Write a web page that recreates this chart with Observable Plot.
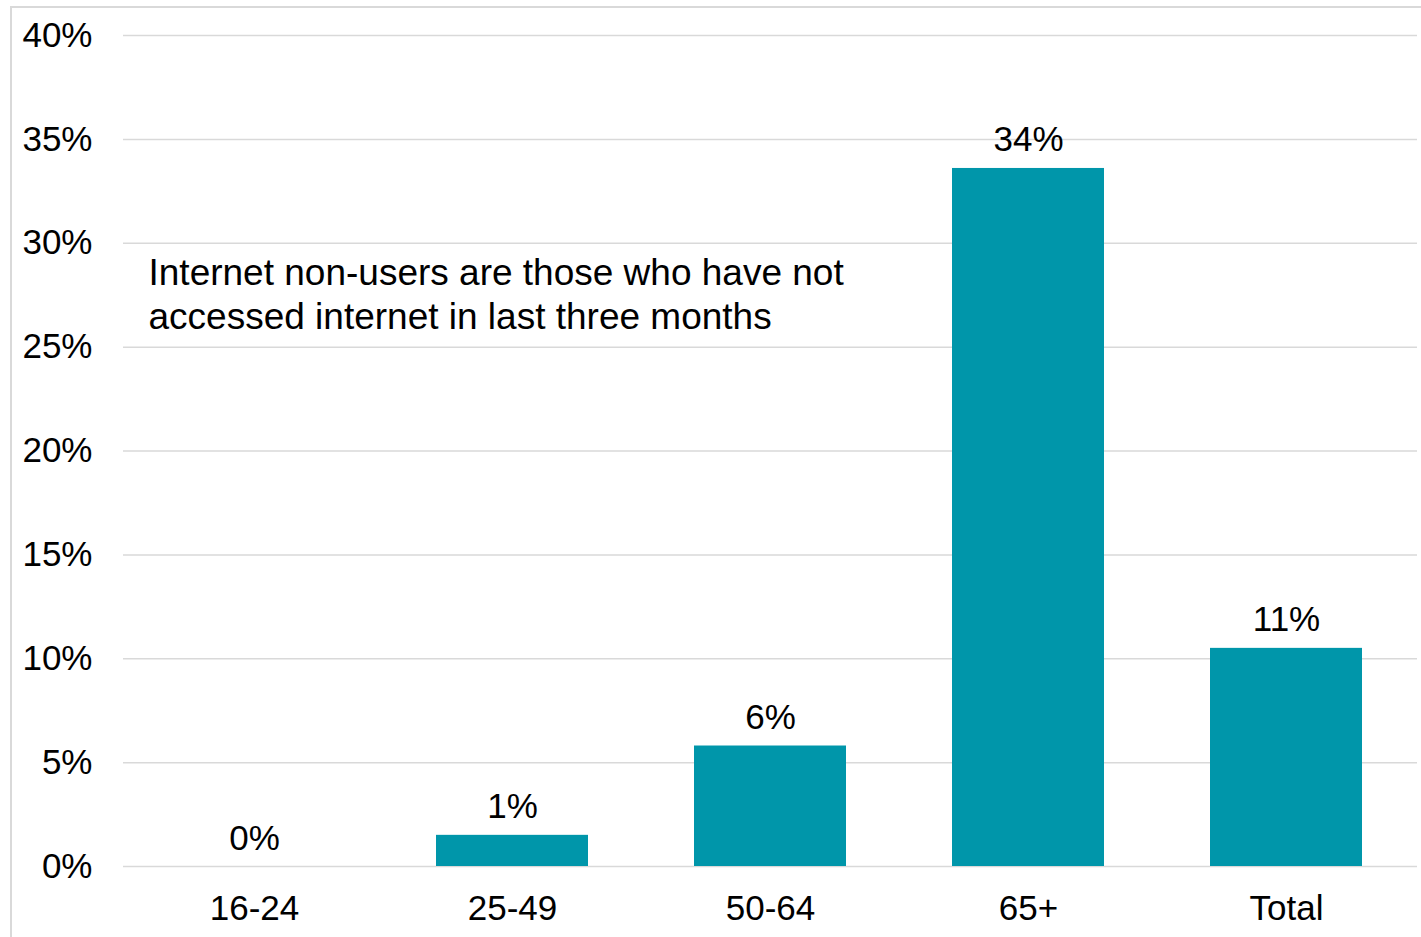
<!DOCTYPE html>
<html>
<head>
<meta charset="utf-8">
<script src="https://cdn.jsdelivr.net/npm/d3@7"></script>
<script src="https://cdn.jsdelivr.net/npm/@observablehq/plot@0.6"></script>
<style>
  html, body { margin: 0; padding: 0; background: #fff; overflow: hidden; }
  #frame { position: absolute; left: 10px; top: 6px; width: 1500px; height: 1000px; border: 2px solid #d9d9d9; box-sizing: border-box; }
  #chart { position: absolute; left: 0; top: 0; }
</style>
</head>
<body>
<div id="frame"></div>
<div id="chart"></div>
<script>
const categories = ["16-24", "25-49", "50-64", "65+", "Total"];
const values = [0.0, 1.5, 5.8, 33.6, 10.5];
const valueLabels = ["0%", "1%", "6%", "34%", "11%"];
const yTicks = [0, 5, 10, 15, 20, 25, 30, 35, 40];
const noteLines = ["Internet non-users are those who have not", "accessed internet in last three months"];

const data = categories.map((c, i) => ({ cat: c, v: values[i], label: valueLabels[i] }));

const font = "Liberation Sans, Arial, sans-serif";

const chart = Plot.plot({
  width: 1421,
  height: 937,
  marginLeft: 123,
  marginRight: 4,
  marginTop: 35,
  marginBottom: 71,
  style: { fontFamily: font, fontSize: "35px", color: "#000", background: "transparent" },
  x: { domain: categories, paddingInner: 0.41, paddingOuter: 0.205, label: null, tickSize: 0, tickPadding: 29 },
  y: { domain: [0, 40], ticks: yTicks, label: null, tickSize: 0, tickPadding: 31, tickFormat: d => d + "%" },
  marks: [
    Plot.gridY(yTicks, { stroke: "#d9d9d9", strokeOpacity: 1, strokeWidth: 1.5 }),
    Plot.barY(data, { x: "cat", y: "v", fill: "#0096AA" }),
    Plot.text(data, { x: "cat", y: "v", text: "label", dy: -17, lineAnchor: "bottom", fill: "#000", fontSize: 35 }),
    Plot.text([noteLines.join("\n")], { frameAnchor: "top-left", dx: 25, dy: 218, textAnchor: "start", lineAnchor: "top", lineHeight: 1.2, fill: "#000", fontSize: 37 })
  ]
});
document.getElementById("chart").appendChild(chart);
</script>
</body>
</html>
